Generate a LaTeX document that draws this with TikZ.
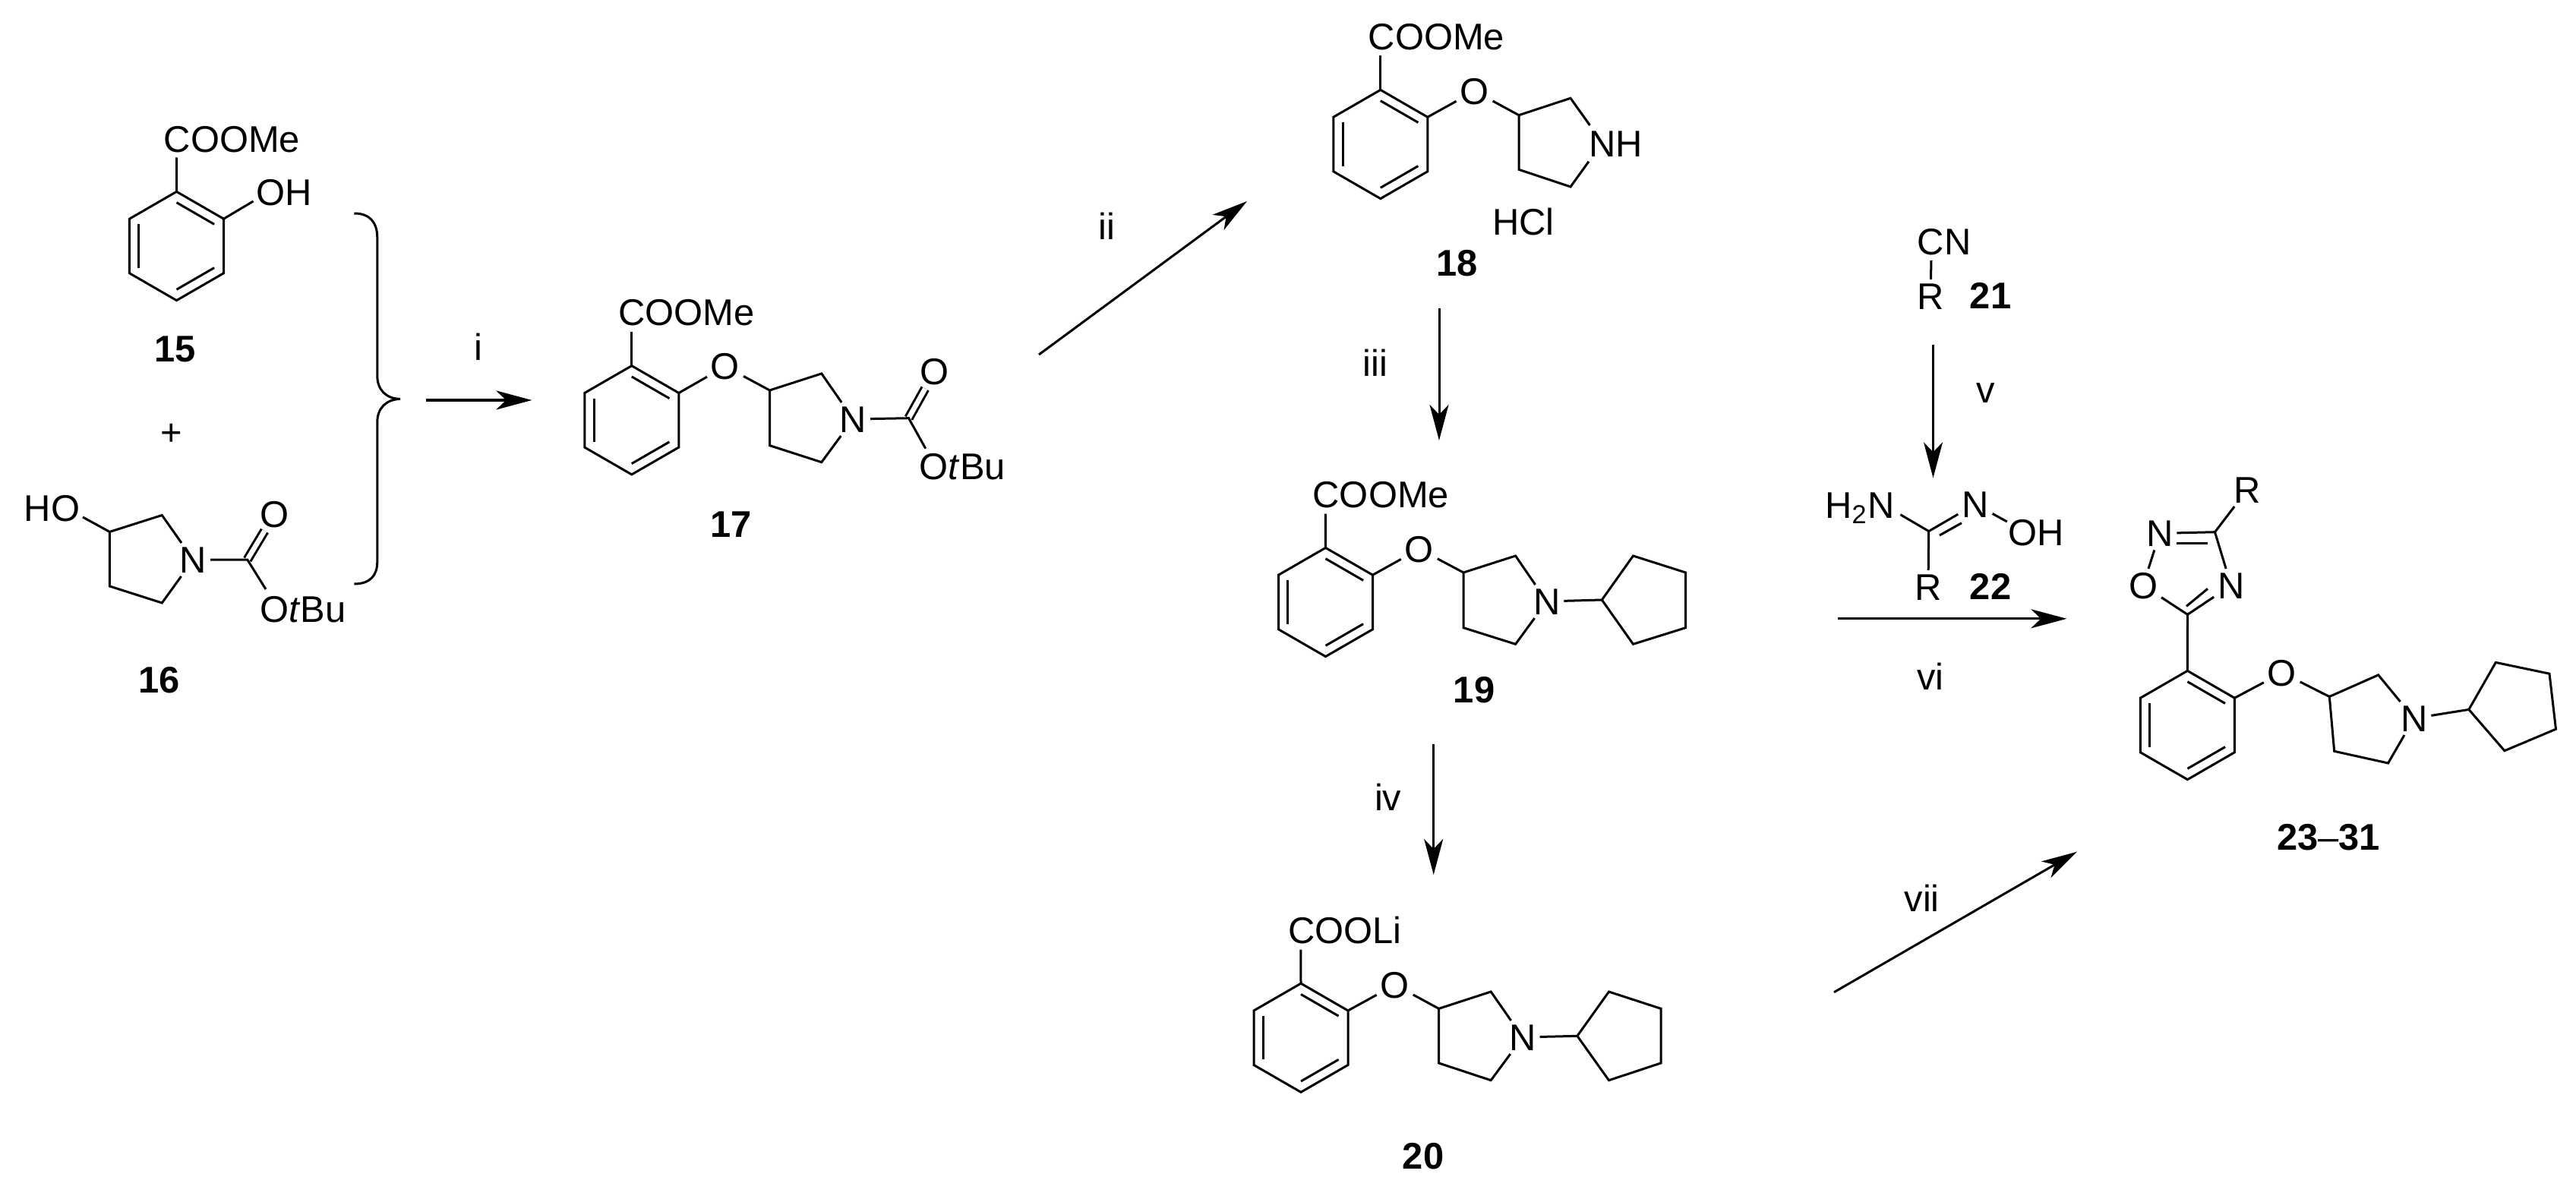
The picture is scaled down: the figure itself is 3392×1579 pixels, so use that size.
\documentclass[tikz,border=0pt]{standalone}
\usepackage{fontspec}
\setmainfont{Liberation Sans}
\usetikzlibrary{calc}
\usetikzlibrary{arrows.meta}
\tikzset{%
  bond/.style = {line width=0.03cm,line join=miter},
  dbond/.style = {bond,double,double distance=0.065cm},
  rxn/.style = {line width=0.03cm,-{Stealth[length=0.47cm,width=0.25cm,inset=0.13cm]}},
  atom/.style = {inner sep=0pt,outer sep=0.05cm,text height=0.34cm,text depth=0pt,
        font=\fontsize{13.9}{16}\selectfont},
  cmpd/.style = {atom,font=\fontsize{13.9}{16}\selectfont\bfseries},
  cond/.style = {atom}
}
% benzene ring: six named corners round a centre
\newcommand{\arene}[3]{%
  \coordinate (#1) at (#2,#3);
  \foreach \k/\ang in {1/270,2/330,3/30,4/90,5/150,6/210}{
    \coordinate (#1\k) at ($(#1)+(\ang:71.6)$);
  }
  \draw[bond] (#11) -- (#12) -- (#13) -- (#14) -- (#15) -- (#16) -- cycle;
  \foreach \p/\q in {1/2,3/4,5/6}{
    \draw[bond] ($(#1)!0.8!(#1\p)$) -- ($(#1)!0.8!(#1\q)$);
  }
}
\begin{document}
\begin{tikzpicture}[x=0.01cm,y=-0.01cm]
    \useasboundingbox (0,0) rectangle (3392,1579);

    % 15
    \arene{a15}{232.5}{324}
    \node[atom] (coo15) at (305.4,183) {COOMe};
    \node[atom] (oh15) at (373.8,253.5) {OH};
    \node[cmpd] (n15) at (231,459) {15};
    \coordinate (t15a) at (232.7,207.5);
    \coordinate (t15b) at (333.5,265);
    \draw[bond] (a151) -- (t15a);
    \draw[bond] (a152) -- (t15b);

    \node[atom] (plus) at (225.4,569) {+};

    % 16
    \node[atom] (ho16) at (68.5,669) {HO};
    \coordinate (t16) at (109,681);
    \coordinate (c16a) at (144.4,700.4);
    \coordinate (c16b) at (213.3,678.5);
    \coordinate (c16c) at (213.3,794);
    \coordinate (c16d) at (144.4,772);
    \coordinate (c16e) at (325.7,737);
    \node[atom] (n16) at (254.5,737) {N};
    \node[atom] (o16) at (361.7,677) {O};
    \node[atom] (tbu16) at (399,802) {O\textit{t}Bu};
    \coordinate (t16b) at (350,776);
    \node[cmpd] (l16) at (210,895) {16};
    \draw[dbond] (c16e) -- (o16);
    \draw[bond] (t16) -- (c16a) -- (c16b) -- (n16) -- (c16c) -- (c16d) -- (c16a);
    \draw[bond] (n16) -- (c16e) -- (t16b);

    % brace
    \draw[bond] (466.3,281) .. controls (487,281) and (496.8,293) .. (496.8,313)
        -- (496.8,495) .. controls (496.8,513) and (508,525) .. (527,525.4)
        .. controls (508,526) and (496.8,538) .. (496.8,556)
        -- (496.8,740) .. controls (496.8,758) and (487,769) .. (466.3,769);

    \coordinate (ai) at (561.3,527);
    \coordinate (bi) at (700.4,527);
    \draw[rxn] (ai) -- (bi);
    \node[cond] (li) at (630,457) {i};

    % 17
    \arene{a17}{831.8}{553.3}
    \node[atom] (coo17) at (904,411.5) {COOMe};
    \coordinate (t17) at (831.8,436.7);
    \node[atom] (o17) at (955,482.5) {O};
    \coordinate (c17a) at (1013.5,514);
    \coordinate (c17b) at (1081.8,492);
    \node[atom] (n17) at (1123.5,552) {N};
    \coordinate (c17c) at (1081.8,608.7);
    \coordinate (c17d) at (1013.5,586.7);
    \coordinate (c17e) at (1196.5,550.7);
    \node[atom] (ox17) at (1230.5,489.7) {O};
    \node[atom] (tbu17) at (1267.5,614.5) {O\textit{t}Bu};
    \coordinate (t17b) at (1218.8,590.7);
    \node[cmpd] (l17) at (963,690) {17};
    \draw[bond] (a171) -- (t17);
    \draw[dbond] (c17e) -- (ox17);
    \draw[bond] (a172) -- (o17) -- (c17a) -- (c17b) -- (n17) -- (c17c) -- (c17d) -- (c17a);
    \draw[bond] (n17) -- (c17e) -- (t17b);

    \coordinate (aii) at (1368,467);
    \coordinate (bii) at (1642,265);
    \draw[rxn] (aii) -- (bii);
    \node[cond] (lii) at (1457,298) {ii};

    % 18
    \arene{a18}{1817.8}{190}
    \node[atom] (coo18) at (1891.5,48.3) {COOMe};
    \coordinate (t18) at (1817.8,73.3);
    \node[atom] (o18) at (1941.6,120) {O};
    \coordinate (c18a) at (2000,151.7);
    \coordinate (c18b) at (2068,129.3);
    \node[atom] (nh18) at (2127.6,189.5) {NH};
    \coordinate (t18a) at (2093.5,165);
    \coordinate (t18b) at (2092,212.7);
    \coordinate (c18c) at (2068,246);
    \coordinate (c18d) at (2000,223.3);
    \node[atom] (hcl18) at (2006,292.5) {HCl};
    \node[cmpd] (l18) at (1918.8,346) {18};
    \draw[bond] (a181) -- (t18);
    \draw[bond] (a182) -- (o18) -- (c18a) -- (c18b) -- (t18a);
    \draw[bond] (t18b) -- (c18c) -- (c18d) -- (c18a);

    \coordinate (aiii) at (1895,406);
    \coordinate (biii) at (1895,580);
    \draw[rxn] (aiii) -- (biii);
    \node[cond] (liii) at (1810.7,478) {iii};

    % 19
    \arene{a19}{1745.5}{793}
    \node[atom] (coo19) at (1818.3,651) {COOMe};
    \coordinate (t19) at (1745.3,676.7);
    \node[atom] (o19) at (1868.8,723) {O};
    \coordinate (c19a) at (1927,754);
    \coordinate (c19b) at (1995.6,732);
    \node[atom] (n19) at (2036.7,792) {N};
    \coordinate (c19c) at (1995.6,848.3);
    \coordinate (c19d) at (1927,826.7);
    \coordinate (p19a) at (2109.3,790);
    \coordinate (p19b) at (2150.5,732);
    \coordinate (p19c) at (2219.6,754);
    \coordinate (p19d) at (2219.6,826.7);
    \coordinate (p19e) at (2150.5,848.3);
    \node[cmpd] (l19) at (1941,908) {19};
    \draw[bond] (a191) -- (t19);
    \draw[bond] (a192) -- (o19) -- (c19a) -- (c19b) -- (n19) -- (c19c) -- (c19d) -- (c19a);
    \draw[bond] (n19) -- (p19a) -- (p19b) -- (p19c) -- (p19d) -- (p19e) -- (p19a);

    \coordinate (aiv) at (1887.7,980);
    \coordinate (biv) at (1887.7,1152);
    \draw[rxn] (aiv) -- (biv);
    \node[cond] (liv) at (1827.7,1050) {iv};

    % 20
    \arene{a20}{1713}{1366.7}
    \node[atom] (coo20) at (1770.8,1225) {COOLi};
    \coordinate (t20) at (1712.8,1250.7);
    \node[atom] (o20) at (1836.7,1297) {O};
    \coordinate (c20a) at (1894.6,1328.3);
    \coordinate (c20b) at (1963.2,1306);
    \node[atom] (n20) at (2005,1366) {N};
    \coordinate (c20c) at (1963.2,1422.7);
    \coordinate (c20d) at (1894.6,1400);
    \coordinate (p20a) at (2076.9,1364.3);
    \coordinate (p20b) at (2118.5,1306);
    \coordinate (p20c) at (2187,1328.3);
    \coordinate (p20d) at (2187,1400);
    \coordinate (p20e) at (2118.5,1422.7);
    \node[cmpd] (l20) at (1874,1522) {20};
    \draw[bond] (a201) -- (t20);
    \draw[bond] (a202) -- (o20) -- (c20a) -- (c20b) -- (n20) -- (c20c) -- (c20d) -- (c20a);
    \draw[bond] (n20) -- (p20a) -- (p20b) -- (p20c) -- (p20d) -- (p20e) -- (p20a);

    \coordinate (avii) at (2415,1306.7);
    \coordinate (bvii) at (2735,1121.7);
    \draw[rxn] (avii) -- (bvii);
    \node[cond] (lvii) at (2530.7,1183) {vii};

    % 21
    \node[atom] (cn21) at (2560,318.6) {CN};
    \coordinate (t21) at (2543,343);
    \node[atom] (r21) at (2542,390) {R};
    \node[cmpd] (l21) at (2621,389) {21};
    \draw[bond] (t21) -- (r21);

    \coordinate (av) at (2545.5,454.4);
    \coordinate (bv) at (2545.5,629.4);
    \draw[rxn] (av) -- (bv);
    \node[cond] (lv) at (2615,513) {v};

    % 22
    \node[atom] (nh22) at (2449,665) {H\textsubscript{2}N};
    \coordinate (t22a) at (2502.4,677.7);
    \coordinate (c22) at (2539.7,699.6);
    \node[atom] (n22) at (2601,664) {N};
    \node[atom] (oh22) at (2681,701.5) {OH};
    \coordinate (t22b) at (2642.8,687);
    \node[atom] (r22) at (2539,773) {R};
    \node[cmpd] (l22) at (2621,772) {22};
    \coordinate (d22a) at (2554,705);
    \coordinate (d22b) at (2583,688.7);
    \draw[bond] (t22a) -- (c22) -- (n22) -- (t22b);
    \draw[bond] (d22a) -- (d22b);
    \draw[bond] (c22) -- (r22);

    \coordinate (avi) at (2420,814.8);
    \coordinate (bvi) at (2721.4,814.8);
    \draw[rxn] (avi) -- (bvi);
    \node[cond] (lvi) at (2542,891) {vi};

    % 23-31
    \arene{a23}{2880.4}{955}
    \node[atom] (r23) at (2959,645) {R};
    \node[atom] (na23) at (2843.8,702.4) {N};
    \node[atom] (nb23) at (2937.8,771) {N};
    \node[atom] (oa23) at (2822,771) {O};
    \coordinate (c23a) at (2916.5,700.7);
    \coordinate (c23b) at (2880.5,809.3);
    \coordinate (d23a) at (2866.3,715);
    \coordinate (d23b) at (2907,715);
    \coordinate (d23c) at (2879,798.4);
    \coordinate (d23d) at (2907,775.3);
    \draw[bond] (r23) -- (c23a) -- (nb23) -- (c23b) -- (oa23) -- (na23) -- (c23a);
    \draw[bond] (d23a) -- (d23b);
    \draw[bond] (d23c) -- (d23d);
    \draw[bond] (c23b) -- (a231);
    \node[atom] (o23) at (3004.8,886) {O};
    \coordinate (c23c) at (3067.3,917.4);
    \coordinate (c23d) at (3131.7,888.9);
    \node[atom] (n23) at (3178.7,946) {N};
    \coordinate (c23e) at (3144.6,1005);
    \coordinate (c23f) at (3073.7,989.3);
    \coordinate (p23a) at (3250.9,934.4);
    \coordinate (p23b) at (3286.3,872.4);
    \coordinate (p23c) at (3357,887.2);
    \coordinate (p23d) at (3365.5,960.2);
    \coordinate (p23e) at (3297.9,988.7);
    \node[cmpd] (l23) at (3066,1102.8) {23{\mdseries --}31};
    \draw[bond] (a232) -- (o23) -- (c23c) -- (c23d) -- (n23) -- (c23e) -- (c23f) -- (c23c);
    \draw[bond] (n23) -- (p23a) -- (p23b) -- (p23c) -- (p23d) -- (p23e) -- (p23a);
\end{tikzpicture}
\end{document}
